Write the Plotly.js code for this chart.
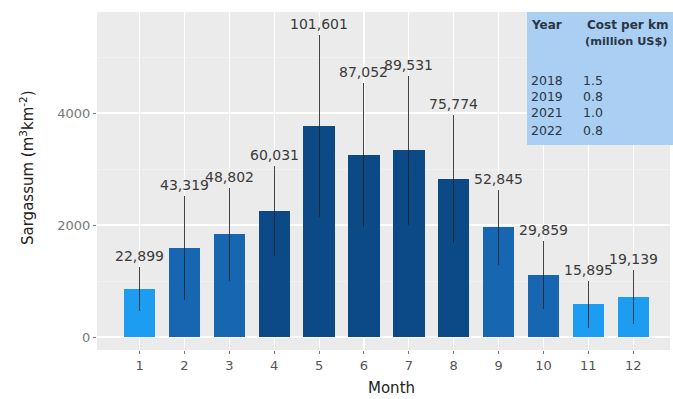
<!DOCTYPE html>
<html>
<head>
<meta charset="utf-8">
<script src="https://cdn.plot.ly/plotly-3.0.1.min.js"></script>
<style>
html,body{margin:0;padding:0;background:#fff;}
#chart{width:673px;height:399px;}
</style>
</head>
<body>
<div id="chart"></div>
<script>
const months = [1,2,3,4,5,6,7,8,9,10,11,12];
const meanValues = [857,1589,1839,2250,3768,3250,3339,2821,1964,1107,589,714];
const errValues = [400,929,830,800,1625,1285,1330,1150,670,610,420,490];
const totalLabels = ["22,899","43,319","48,802","60,031","101,601","87,052","89,531","75,774","52,845","29,859","15,895","19,139"];
const colorGroup = ["light","mid","mid","dark","dark","dark","dark","dark","mid","mid","light","light"];
const tableYears = ["2018","2019","2021","2022"];
const tableCosts = ["1.5","0.8","1.0","0.8"];

const palette = {light:"#1c9df2", mid:"#1666b2", dark:"#0c4a87"};

const bars = {
  type:"bar",
  x: months,
  y: meanValues,
  width: 0.7,
  marker:{color: colorGroup.map(c=>palette[c]), line:{width:0}},
  error_y:{type:"data", array:errValues, visible:true, color:"rgba(35,35,35,0.85)", thickness:1, width:0},
  hoverinfo:"skip"
};

const annotations = months.map((m,i)=>({
  x:m, y:meanValues[i]+errValues[i], xref:"x", yref:"y",
  text: totalLabels[i], showarrow:false, yanchor:"bottom", yshift:1,
  font:{family:"DejaVu Sans", size:14, color:"#3a3a3a"}
}));

function py(pix){ return (350-pix)/338; }
function px(pix){ return (pix-97)/573; }
const tx0 = px(527), ty0 = py(145);
const tfontB = {family:"DejaVu Sans", size:12, color:"#2a3645"};
const tfont = {family:"DejaVu Sans", size:12.5, color:"#2a3645"};
annotations.push({xref:"paper", yref:"paper", x:px(529), y:py(25), xanchor:"left", yanchor:"middle", text:"<b>Year</b>", showarrow:false, font:tfontB});
annotations.push({xref:"paper", yref:"paper", x:px(627), y:py(25), xanchor:"center", yanchor:"middle", text:"<b>Cost per km</b>", showarrow:false, font:tfontB});
annotations.push({xref:"paper", yref:"paper", x:px(626), y:py(41), xanchor:"center", yanchor:"middle", text:"<b>(million US$)</b>", showarrow:false, font:{family:"DejaVu Sans", size:11.3, color:"#2a3645"}});
const rowY = [80,97,113,130];
tableYears.forEach((yr,i)=>{
  annotations.push({xref:"paper", yref:"paper", x:px(529), y:py(rowY[i]), xanchor:"left", yanchor:"middle", text:yr, showarrow:false, font:tfont});
  annotations.push({xref:"paper", yref:"paper", x:px(593), y:py(rowY[i]), xanchor:"center", yanchor:"middle", text:tableCosts[i], showarrow:false, font:tfont});
});
// axis titles
annotations.push({xref:"paper", yref:"paper", x:px(27), y:py(168), xanchor:"center", yanchor:"middle", textangle:-90, text:"Sargassum (m<sup>3</sup>km<sup>-2</sup>)", showarrow:false, font:{family:"DejaVu Sans", size:15, color:"#222"}});
annotations.push({xref:"paper", yref:"paper", x:px(391), y:py(388), xanchor:"center", yanchor:"middle", text:"Month", showarrow:false, font:{family:"DejaVu Sans", size:15, color:"#222"}});

const layout = {
  width:673, height:399,
  margin:{l:97, r:3, t:12, b:49},
  paper_bgcolor:"#ffffff",
  plot_bgcolor:"#ebebeb",
  showlegend:false,
  bargap:0,
  xaxis:{
    range:[0.05,12.82], tickmode:"array", tickvals:months, ticktext:months.map(String),
    showgrid:true, gridcolor:"#ffffff", gridwidth:1.1, zeroline:false,
    ticks:"outside", ticklen:3, tickcolor:"#777", tickwidth:1,
    tickfont:{family:"DejaVu Sans", size:13, color:"#555"},
    showline:false, fixedrange:true
  },
  yaxis:{
    range:[-232,5804], tickvals:[0,2000,4000], ticktext:["0","2000","4000"],
    showgrid:true, gridcolor:"#ffffff", gridwidth:1.1, zeroline:false,
    minor:{tickvals:[1000,3000,5000], showgrid:true, gridcolor:"#f5f5f5", gridwidth:0.6, ticks:""},
    ticks:"outside", ticklen:3, tickcolor:"#777", tickwidth:1,
    tickfont:{family:"DejaVu Sans", size:13, color:"#777"},
    showline:false, fixedrange:true
  },
  shapes:[{type:"rect", xref:"paper", yref:"paper", x0:tx0, x1:1.01, y0:ty0, y1:1, fillcolor:"#aacff2", line:{width:0}, layer:"above"}],
  annotations: annotations
};

Plotly.newPlot("chart",[bars],layout,{displayModeBar:false, staticPlot:true});
</script>
</body>
</html>
